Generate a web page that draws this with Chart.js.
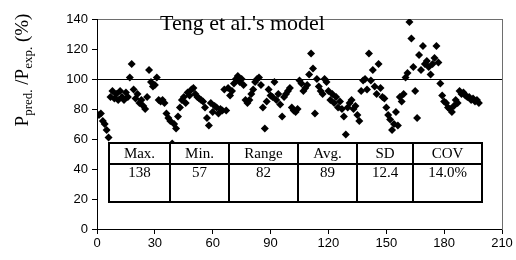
<!DOCTYPE html>
<html>
<head>
<meta charset="utf-8">
<script src="https://cdn.jsdelivr.net/npm/chart.js@4.4.0/dist/chart.umd.min.js"></script>
<style>
  html, body { margin: 0; padding: 0; background: #fff; }
</style>
</head>
<body>
<canvas id="c" width="516" height="260"></canvas>
<script>
// P_pred / P_exp (%) for each specimen, in specimen order (1, 2, 3 ...)
const ratios = [
  76, 77, 72, 70, 66, 61, 88, 92, 87, 90,
  86, 92, 88, 86, 91, 88, 101, 110, 93, 87,
  90, 84, 86, 82, 80, 88, 106, 98, 95, 96,
  101, 86, 85, 86, 84, 77, 74, 72, 57, 70,
  67, 75, 81, 86, 88, 84, 91, 89, 93, 94,
  90, 88, 87, 86, 85, 81, 74, 69, 84, 78,
  82, 81, 77, 80, 79, 93, 79, 94, 89, 92,
  97, 100, 102, 98, 100, 96, 86, 84, 86, 90,
  93, 98, 100, 101, 96, 81, 67, 85, 93, 89,
  88, 98, 86, 90, 83, 75, 88, 90, 92, 94,
  81, 79, 78, 80, 99, 97, 92, 94, 96, 103,
  117, 107, 77, 100, 95, 92, 90, 100, 98, 92,
  86, 90, 84, 88, 81, 85, 80, 75, 63, 81,
  84, 86, 80, 82, 76, 72, 92, 99, 100, 93,
  117, 99, 106, 95, 90, 110, 94, 88, 87, 81,
  76, 73, 66, 70, 78, 69, 88, 85, 90, 101,
  104, 138, 127, 108, 92, 74, 116, 106, 122, 110,
  112, 108, 103, 110, 114, 122, 111, 97, 89, 85,
  84, 81, 80, 78, 82, 86, 84, 92, 90, 91,
  89, 88, 88, 86, 87, 85, 86, 84
];

const xTicks = [0, 30, 60, 90, 120, 150, 180, 210];
const yTicks = [0, 20, 40, 60, 80, 100, 120, 140];

const tableHeads  = ['Max.', 'Min.', 'Range', 'Avg.', 'SD', 'COV'];
const tableValues = ['138', '57', '82', '89', '12.4', '14.0%'];

const modelName = "Teng et al.'s model";

const points = ratios.map(function(v, i) { return { x: i + 1, y: v }; });

const SERIF = '"Liberation Serif", "Times New Roman", serif';

const decor = {
  id: 'decor',
  afterDraw: function(chart) {
    const ctx = chart.ctx;
    ctx.save();

    // statistics table
    const cols = [109, 170, 229, 298, 357, 413, 482];
    const top = 143, mid = 164, bot = 202;
    ctx.fillStyle = '#fff';
    ctx.fillRect(cols[0], top, cols[6] - cols[0], bot - top);
    ctx.strokeStyle = '#000';
    ctx.lineWidth = 2;
    ctx.strokeRect(cols[0], top, cols[6] - cols[0], bot - top);
    ctx.beginPath();
    ctx.moveTo(cols[0], mid); ctx.lineTo(cols[6], mid);
    for (let i = 1; i < 6; i++) { ctx.moveTo(cols[i], top); ctx.lineTo(cols[i], bot); }
    ctx.stroke();

    ctx.fillStyle = '#000';
    ctx.font = '15px ' + SERIF;
    ctx.textAlign = 'center';
    ctx.textBaseline = 'middle';
    for (let i = 0; i < 6; i++) {
      const cx = (cols[i] + cols[i + 1]) / 2;
      ctx.fillText(tableHeads[i], cx, 154.5);
      ctx.fillText(tableValues[i], cx, 173.5);
    }

    // title inside the plot
    ctx.font = '22px ' + SERIF;
    ctx.textAlign = 'left';
    ctx.textBaseline = 'alphabetic';
    ctx.fillText(modelName, 160, 30);

    // y axis title with subscripts
    ctx.translate(28, 70);
    ctx.rotate(-Math.PI / 2);
    const parts = [
      ['P', 19, 0], ['pred.', 13, 4], [' /P', 19, 0], ['exp.', 13, 4], [' (%)', 19, 0]
    ];
    let w = 0;
    parts.forEach(function(p) {
      ctx.font = p[1] + 'px ' + SERIF;
      w += ctx.measureText(p[0]).width;
    });
    let x = -w / 2;
    parts.forEach(function(p) {
      ctx.font = p[1] + 'px ' + SERIF;
      ctx.fillText(p[0], x, p[2]);
      x += ctx.measureText(p[0]).width;
    });
    ctx.restore();
  }
};

const frameAxis = {
  display: true,
  ticks: { display: false },
  grid: { display: true, drawOnChartArea: false, drawTicks: false, color: 'transparent' },
  border: { display: true, color: '#6e6e6e', width: 1 }
};

new Chart(document.getElementById('c'), {
  type: 'scatter',
  data: {
    datasets: [{
      data: points,
      pointStyle: 'rectRot',
      pointRadius: 4,
      pointHoverRadius: 4,
      backgroundColor: '#000',
      borderColor: '#000',
      borderWidth: 0
    }]
  },
  options: {
    responsive: false,
    animation: false,
    events: [],
    layout: { padding: { top: 19, right: 14, left: 0, bottom: 0 } },
    plugins: { legend: { display: false }, tooltip: { enabled: false } },
    scales: {
      x: {
        type: 'linear',
        min: 0, max: 210,
        afterBuildTicks: function(s) { s.ticks = xTicks.map(function(v) { return { value: v }; }); },
        afterFit: function(s) { s.height = 31; },
        ticks: {
          color: '#000',
          padding: 2,
          font: { family: '"Liberation Sans", Arial, sans-serif', size: 13 }
        },
        grid: { color: 'transparent', tickColor: '#000', tickLength: 5, drawTicks: true },
        border: { color: '#000', width: 1 }
      },
      xTop: Object.assign({ type: 'linear', position: 'top', axis: 'x', min: 0, max: 210,
        afterFit: function(s) { s.height = 0; } }, frameAxis),
      y: {
        min: 0, max: 140,
        afterBuildTicks: function(s) { s.ticks = yTicks.map(function(v) { return { value: v }; }); },
        afterFit: function(s) { s.width = 97; },
        ticks: {
          color: '#000',
          padding: 4,
          font: { family: '"Liberation Sans", Arial, sans-serif', size: 13 }
        },
        grid: {
          color: function(c) { return c.tick && c.tick.value === 100 ? '#000' : 'transparent'; },
          tickColor: '#000',
          tickLength: 5
        },
        border: { color: '#000', width: 1 }
      },
      yRight: Object.assign({ type: 'linear', position: 'right', axis: 'y', min: 0, max: 140,
        afterFit: function(s) { s.width = 0; } }, frameAxis)
    }
  },
  plugins: [decor]
});
</script>
</body>
</html>
